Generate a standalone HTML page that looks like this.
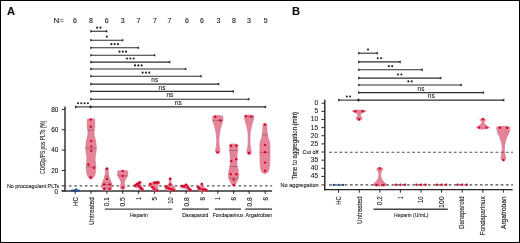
<!DOCTYPE html>
<html><head><meta charset="utf-8"><style>
html,body{margin:0;padding:0;background:#fff;}
body{width:520px;height:243px;overflow:hidden;}
svg{display:block;font-family:"Liberation Sans", sans-serif;will-change:transform;}
text{stroke:#1e1e1e;stroke-width:0.12px;}
</style></head><body>
<svg width="520" height="243" viewBox="0 0 520 243">
<rect x="0" y="0" width="520" height="243" fill="#fff"/>
<text x="7" y="15.2" font-size="11.2" text-anchor="start" font-weight="bold" fill="#111">A</text>
<text x="53.6" y="22.8" font-size="7" text-anchor="start" font-weight="normal" fill="#1e1e1e" textLength="10.4" lengthAdjust="spacingAndGlyphs">N=</text>
<text x="75" y="22.8" font-size="7" text-anchor="middle" font-weight="normal" fill="#1e1e1e">6</text>
<text x="91" y="22.8" font-size="7" text-anchor="middle" font-weight="normal" fill="#1e1e1e">8</text>
<text x="106.8" y="22.8" font-size="7" text-anchor="middle" font-weight="normal" fill="#1e1e1e">6</text>
<text x="122.8" y="22.8" font-size="7" text-anchor="middle" font-weight="normal" fill="#1e1e1e">3</text>
<text x="138.4" y="22.8" font-size="7" text-anchor="middle" font-weight="normal" fill="#1e1e1e">7</text>
<text x="155" y="22.8" font-size="7" text-anchor="middle" font-weight="normal" fill="#1e1e1e">7</text>
<text x="169.4" y="22.8" font-size="7" text-anchor="middle" font-weight="normal" fill="#1e1e1e">7</text>
<text x="187" y="22.8" font-size="7" text-anchor="middle" font-weight="normal" fill="#1e1e1e">6</text>
<text x="202" y="22.8" font-size="7" text-anchor="middle" font-weight="normal" fill="#1e1e1e">6</text>
<text x="218.5" y="22.8" font-size="7" text-anchor="middle" font-weight="normal" fill="#1e1e1e">3</text>
<text x="234" y="22.8" font-size="7" text-anchor="middle" font-weight="normal" fill="#1e1e1e">8</text>
<text x="249" y="22.8" font-size="7" text-anchor="middle" font-weight="normal" fill="#1e1e1e">3</text>
<text x="265.6" y="22.8" font-size="7" text-anchor="middle" font-weight="normal" fill="#1e1e1e">5</text>
<line x1="90.6" y1="31.25" x2="107" y2="31.25" stroke="#2e2e2e" stroke-width="1.1"/>
<path d="M90.3,29.65 L92.5,31.25 L90.3,32.85Z" fill="#2e2e2e"/>
<path d="M107.3,29.65 L105.1,31.25 L107.3,32.85Z" fill="#2e2e2e"/>
<circle cx="97.15" cy="27.65" r="1.05" fill="#222"/>
<circle cx="100.45" cy="27.65" r="1.05" fill="#222"/>
<line x1="90.6" y1="40.25" x2="123" y2="40.25" stroke="#2e2e2e" stroke-width="1.1"/>
<path d="M90.3,38.65 L92.5,40.25 L90.3,41.85Z" fill="#2e2e2e"/>
<path d="M123.3,38.65 L121.1,40.25 L123.3,41.85Z" fill="#2e2e2e"/>
<circle cx="106.8" cy="36.65" r="1.05" fill="#222"/>
<line x1="90.6" y1="47.75" x2="138.75" y2="47.75" stroke="#2e2e2e" stroke-width="1.1"/>
<path d="M90.3,46.15 L92.5,47.75 L90.3,49.35Z" fill="#2e2e2e"/>
<path d="M139.05,46.15 L136.85,47.75 L139.05,49.35Z" fill="#2e2e2e"/>
<circle cx="111.38" cy="44.15" r="1.05" fill="#222"/>
<circle cx="114.67" cy="44.15" r="1.05" fill="#222"/>
<circle cx="117.97" cy="44.15" r="1.05" fill="#222"/>
<line x1="90.6" y1="55.25" x2="155" y2="55.25" stroke="#2e2e2e" stroke-width="1.1"/>
<path d="M90.3,53.65 L92.5,55.25 L90.3,56.85Z" fill="#2e2e2e"/>
<path d="M155.3,53.65 L153.1,55.25 L155.3,56.85Z" fill="#2e2e2e"/>
<circle cx="119.5" cy="51.65" r="1.05" fill="#222"/>
<circle cx="122.8" cy="51.65" r="1.05" fill="#222"/>
<circle cx="126.1" cy="51.65" r="1.05" fill="#222"/>
<line x1="90.6" y1="62.1" x2="170" y2="62.1" stroke="#2e2e2e" stroke-width="1.1"/>
<path d="M90.3,60.5 L92.5,62.1 L90.3,63.7Z" fill="#2e2e2e"/>
<path d="M170.3,60.5 L168.1,62.1 L170.3,63.7Z" fill="#2e2e2e"/>
<circle cx="127" cy="58.5" r="1.05" fill="#222"/>
<circle cx="130.3" cy="58.5" r="1.05" fill="#222"/>
<circle cx="133.6" cy="58.5" r="1.05" fill="#222"/>
<line x1="90.6" y1="69" x2="186" y2="69" stroke="#2e2e2e" stroke-width="1.1"/>
<path d="M90.3,67.4 L92.5,69 L90.3,70.6Z" fill="#2e2e2e"/>
<path d="M186.3,67.4 L184.1,69 L186.3,70.6Z" fill="#2e2e2e"/>
<circle cx="135" cy="65.4" r="1.05" fill="#222"/>
<circle cx="138.3" cy="65.4" r="1.05" fill="#222"/>
<circle cx="141.6" cy="65.4" r="1.05" fill="#222"/>
<line x1="90.6" y1="76.25" x2="201.25" y2="76.25" stroke="#2e2e2e" stroke-width="1.1"/>
<path d="M90.3,74.65 L92.5,76.25 L90.3,77.85Z" fill="#2e2e2e"/>
<path d="M201.55,74.65 L199.35,76.25 L201.55,77.85Z" fill="#2e2e2e"/>
<circle cx="142.62" cy="72.65" r="1.05" fill="#222"/>
<circle cx="145.93" cy="72.65" r="1.05" fill="#222"/>
<circle cx="149.22" cy="72.65" r="1.05" fill="#222"/>
<line x1="90.6" y1="84.1" x2="219" y2="84.1" stroke="#2e2e2e" stroke-width="1.1"/>
<path d="M90.3,82.5 L92.5,84.1 L90.3,85.7Z" fill="#2e2e2e"/>
<path d="M219.3,82.5 L217.1,84.1 L219.3,85.7Z" fill="#2e2e2e"/>
<text x="154.8" y="82.2" font-size="7.8" text-anchor="middle" font-weight="normal" fill="#1e1e1e" textLength="6.9" lengthAdjust="spacingAndGlyphs">ns</text>
<line x1="90.6" y1="91.4" x2="233.5" y2="91.4" stroke="#2e2e2e" stroke-width="1.1"/>
<path d="M90.3,89.8 L92.5,91.4 L90.3,93Z" fill="#2e2e2e"/>
<path d="M233.8,89.8 L231.6,91.4 L233.8,93Z" fill="#2e2e2e"/>
<text x="162.05" y="89.5" font-size="7.8" text-anchor="middle" font-weight="normal" fill="#1e1e1e" textLength="6.9" lengthAdjust="spacingAndGlyphs">ns</text>
<line x1="90.6" y1="99.2" x2="249.1" y2="99.2" stroke="#2e2e2e" stroke-width="1.1"/>
<path d="M90.3,97.6 L92.5,99.2 L90.3,100.8Z" fill="#2e2e2e"/>
<path d="M249.4,97.6 L247.2,99.2 L249.4,100.8Z" fill="#2e2e2e"/>
<text x="169.85" y="97.3" font-size="7.8" text-anchor="middle" font-weight="normal" fill="#1e1e1e" textLength="6.9" lengthAdjust="spacingAndGlyphs">ns</text>
<line x1="90.6" y1="106.9" x2="265.9" y2="106.9" stroke="#2e2e2e" stroke-width="1.1"/>
<path d="M90.3,105.3 L92.5,106.9 L90.3,108.5Z" fill="#2e2e2e"/>
<path d="M266.2,105.3 L264,106.9 L266.2,108.5Z" fill="#2e2e2e"/>
<text x="178.25" y="105" font-size="7.8" text-anchor="middle" font-weight="normal" fill="#1e1e1e" textLength="6.9" lengthAdjust="spacingAndGlyphs">ns</text>
<line x1="75.3" y1="106.9" x2="90.6" y2="106.9" stroke="#2e2e2e" stroke-width="1.1"/>
<path d="M75,105.3 L77.2,106.9 L75,108.5Z" fill="#2e2e2e"/>
<path d="M90.9,105.3 L88.7,106.9 L90.9,108.5Z" fill="#2e2e2e"/>
<circle cx="78" cy="103.3" r="1.05" fill="#222"/>
<circle cx="81.3" cy="103.3" r="1.05" fill="#222"/>
<circle cx="84.6" cy="103.3" r="1.05" fill="#222"/>
<circle cx="87.9" cy="103.3" r="1.05" fill="#222"/>
<text x="6.9" y="187.9" font-size="6" text-anchor="start" font-weight="normal" fill="#1e1e1e" textLength="52.2" lengthAdjust="spacingAndGlyphs">No procoagulant PLTs</text>
<line x1="65" y1="106.5" x2="65" y2="191.5" stroke="#262626" stroke-width="1.4"/>
<line x1="61.7" y1="190.95" x2="272.1" y2="190.95" stroke="#333" stroke-width="1.6"/>
<line x1="61.7" y1="190.8" x2="65" y2="190.8" stroke="#262626" stroke-width="1"/>
<text x="58.1" y="194" font-size="6.4" text-anchor="end" font-weight="normal" fill="#1e1e1e">0</text>
<line x1="61.7" y1="170.45" x2="65" y2="170.45" stroke="#262626" stroke-width="1"/>
<text x="58.4" y="172.75" font-size="6.4" text-anchor="end" font-weight="normal" fill="#1e1e1e">20</text>
<line x1="61.7" y1="150.1" x2="65" y2="150.1" stroke="#262626" stroke-width="1"/>
<text x="58.4" y="152.4" font-size="6.4" text-anchor="end" font-weight="normal" fill="#1e1e1e">40</text>
<line x1="61.7" y1="129.75" x2="65" y2="129.75" stroke="#262626" stroke-width="1"/>
<text x="58.4" y="132.05" font-size="6.4" text-anchor="end" font-weight="normal" fill="#1e1e1e">60</text>
<line x1="61.7" y1="109.4" x2="65" y2="109.4" stroke="#262626" stroke-width="1"/>
<text x="58.4" y="111.7" font-size="6.4" text-anchor="end" font-weight="normal" fill="#1e1e1e">80</text>
<text transform="translate(44.86,147.3) rotate(-90)" font-size="6.3" text-anchor="middle" fill="#1e1e1e" textLength="53.2" lengthAdjust="spacingAndGlyphs">CD62p/PS pos PLTs (%)</text>
<line x1="75.2" y1="190.8" x2="75.2" y2="193.8" stroke="#111" stroke-width="0.9"/>
<line x1="91" y1="190.8" x2="91" y2="193.8" stroke="#111" stroke-width="0.9"/>
<line x1="106.9" y1="190.8" x2="106.9" y2="193.8" stroke="#111" stroke-width="0.9"/>
<line x1="122.7" y1="190.8" x2="122.7" y2="193.8" stroke="#111" stroke-width="0.9"/>
<line x1="138.6" y1="190.8" x2="138.6" y2="193.8" stroke="#111" stroke-width="0.9"/>
<line x1="154.4" y1="190.8" x2="154.4" y2="193.8" stroke="#111" stroke-width="0.9"/>
<line x1="170.2" y1="190.8" x2="170.2" y2="193.8" stroke="#111" stroke-width="0.9"/>
<line x1="186" y1="190.8" x2="186" y2="193.8" stroke="#111" stroke-width="0.9"/>
<line x1="202" y1="190.8" x2="202" y2="193.8" stroke="#111" stroke-width="0.9"/>
<line x1="217.8" y1="190.8" x2="217.8" y2="193.8" stroke="#111" stroke-width="0.9"/>
<line x1="233.6" y1="190.8" x2="233.6" y2="193.8" stroke="#111" stroke-width="0.9"/>
<line x1="249.1" y1="190.8" x2="249.1" y2="193.8" stroke="#111" stroke-width="0.9"/>
<line x1="265.2" y1="190.8" x2="265.2" y2="193.8" stroke="#111" stroke-width="0.9"/>
<text transform="translate(77.76,197.2) rotate(-90)" font-size="6.3" text-anchor="end" fill="#1e1e1e" textLength="8.7" lengthAdjust="spacingAndGlyphs">HC</text>
<text transform="translate(93.56,197.2) rotate(-90)" font-size="6.3" text-anchor="end" fill="#1e1e1e" textLength="27.9" lengthAdjust="spacingAndGlyphs">Untreated</text>
<text transform="translate(109.46,197.2) rotate(-90)" font-size="6.3" text-anchor="end" fill="#1e1e1e" textLength="9" lengthAdjust="spacingAndGlyphs">0.1</text>
<text transform="translate(125.26,197.2) rotate(-90)" font-size="6.3" text-anchor="end" fill="#1e1e1e" textLength="9.2" lengthAdjust="spacingAndGlyphs">0.5</text>
<text transform="translate(141.16,197.2) rotate(-90)" font-size="6.3" text-anchor="end" fill="#1e1e1e" textLength="2.6" lengthAdjust="spacingAndGlyphs">1</text>
<text transform="translate(156.96,197.2) rotate(-90)" font-size="6.3" text-anchor="end" fill="#1e1e1e" textLength="3.4" lengthAdjust="spacingAndGlyphs">5</text>
<text transform="translate(172.76,197.2) rotate(-90)" font-size="6.3" text-anchor="end" fill="#1e1e1e" textLength="6.6" lengthAdjust="spacingAndGlyphs">10</text>
<text transform="translate(188.56,197.2) rotate(-90)" font-size="6.3" text-anchor="end" fill="#1e1e1e" textLength="9.2" lengthAdjust="spacingAndGlyphs">0.8</text>
<text transform="translate(204.56,197.2) rotate(-90)" font-size="6.3" text-anchor="end" fill="#1e1e1e" textLength="3.4" lengthAdjust="spacingAndGlyphs">8</text>
<text transform="translate(220.36,197.2) rotate(-90)" font-size="6.3" text-anchor="end" fill="#1e1e1e" textLength="2.6" lengthAdjust="spacingAndGlyphs">1</text>
<text transform="translate(236.16,197.2) rotate(-90)" font-size="6.3" text-anchor="end" fill="#1e1e1e" textLength="3.4" lengthAdjust="spacingAndGlyphs">8</text>
<text transform="translate(251.66,197.2) rotate(-90)" font-size="6.3" text-anchor="end" fill="#1e1e1e" textLength="9.2" lengthAdjust="spacingAndGlyphs">0.8</text>
<text transform="translate(267.76,197.2) rotate(-90)" font-size="6.3" text-anchor="end" fill="#1e1e1e" textLength="3.4" lengthAdjust="spacingAndGlyphs">8</text>
<line x1="104.8" y1="209.1" x2="172.3" y2="209.1" stroke="#444" stroke-width="1.4"/>
<text x="138.9" y="216.9" font-size="5.8" text-anchor="middle" font-weight="normal" fill="#1e1e1e" textLength="18" lengthAdjust="spacingAndGlyphs">Heparin</text>
<line x1="182" y1="209.1" x2="208.8" y2="209.1" stroke="#444" stroke-width="1.4"/>
<text x="195.25" y="216.9" font-size="5.8" text-anchor="middle" font-weight="normal" fill="#1e1e1e" textLength="26.1" lengthAdjust="spacingAndGlyphs">Danaparoid</text>
<line x1="214.6" y1="209.1" x2="241" y2="209.1" stroke="#444" stroke-width="1.4"/>
<text x="228.1" y="216.9" font-size="5.8" text-anchor="middle" font-weight="normal" fill="#1e1e1e" textLength="30.7" lengthAdjust="spacingAndGlyphs">Fondaparinux</text>
<line x1="245.4" y1="209.1" x2="272" y2="209.1" stroke="#444" stroke-width="1.4"/>
<text x="258.75" y="216.9" font-size="5.8" text-anchor="middle" font-weight="normal" fill="#1e1e1e" textLength="26.3" lengthAdjust="spacingAndGlyphs">Argatroban</text>
<ellipse cx="75.3" cy="190.5" rx="4.8" ry="1.1" fill="#1f4f8f"/>
<circle cx="72" cy="190.6" r="0.9" fill="#1f4f8f"/>
<circle cx="73.8" cy="190.3" r="0.9" fill="#1f4f8f"/>
<circle cx="75.5" cy="189.8" r="0.9" fill="#1f4f8f"/>
<circle cx="76.3" cy="189.1" r="0.9" fill="#1f4f8f"/>
<circle cx="77.5" cy="190.3" r="0.9" fill="#1f4f8f"/>
<circle cx="79" cy="190.6" r="0.9" fill="#1f4f8f"/>
<line x1="61.7" y1="185.85" x2="65" y2="185.85" stroke="#262626" stroke-width="1"/>
<line x1="63.7" y1="185.85" x2="272.1" y2="185.85" stroke="#4e4e4e" stroke-width="1.1" stroke-dasharray="2.45 2.85"/>
<path d="M91,118.6 C90.5,118.67 88.62,118.77 88,119 C87.38,119.23 87.42,118.83 87.3,120 C87.18,121.17 87.23,124.33 87.3,126 C87.37,127.67 87.58,128.67 87.7,130 C87.82,131.33 88.08,132.67 88,134 C87.92,135.33 87.5,136.67 87.2,138 C86.9,139.33 86.45,140.33 86.2,142 C85.95,143.67 85.7,146.17 85.7,148 C85.7,149.83 86,151.33 86.2,153 C86.4,154.67 86.83,156.33 86.9,158 C86.97,159.67 86.72,161.33 86.6,163 C86.48,164.67 86.18,166.33 86.2,168 C86.22,169.67 86.37,171.5 86.7,173 C87.03,174.5 87.48,175.93 88.2,177 C88.92,178.07 90.07,179.4 91,179.4 C91.93,179.4 93.08,178.07 93.8,177 C94.52,175.93 94.97,174.5 95.3,173 C95.63,171.5 95.78,169.67 95.8,168 C95.82,166.33 95.52,164.67 95.4,163 C95.28,161.33 95.03,159.67 95.1,158 C95.17,156.33 95.6,154.67 95.8,153 C96,151.33 96.3,149.83 96.3,148 C96.3,146.17 96.05,143.67 95.8,142 C95.55,140.33 95.1,139.33 94.8,138 C94.5,136.67 94.08,135.33 94,134 C93.92,132.67 94.18,131.33 94.3,130 C94.42,128.67 94.63,127.67 94.7,126 C94.77,124.33 94.82,121.17 94.7,120 C94.58,118.83 94.62,119.23 94,119 C93.38,118.77 91.5,118.67 91,118.6Z" fill="#e58499" stroke="#d56c86" stroke-width="0.6"/>
<line x1="87.6" y1="130" x2="94.4" y2="130" stroke="#5a4a50" stroke-width="0.7" stroke-dasharray="1 0.7"/>
<line x1="85.7" y1="148.3" x2="96.3" y2="148.3" stroke="#5a4a50" stroke-width="0.7" stroke-dasharray="1 0.7"/>
<line x1="86.2" y1="166.8" x2="95.8" y2="166.8" stroke="#5a4a50" stroke-width="0.7" stroke-dasharray="1 0.7"/>
<path d="M106.9,167.6 C106.63,167.75 105.53,167.93 105.3,168.5 C105.07,169.07 105.52,169.92 105.5,171 C105.48,172.08 105.47,173.67 105.2,175 C104.93,176.33 104.38,177.67 103.9,179 C103.42,180.33 102.63,181.67 102.3,183 C101.97,184.33 101.8,185.92 101.9,187 C102,188.08 102.07,188.9 102.9,189.5 C103.73,190.1 105.57,190.6 106.9,190.6 C108.23,190.6 110.07,190.1 110.9,189.5 C111.73,188.9 111.8,188.08 111.9,187 C112,185.92 111.83,184.33 111.5,183 C111.17,181.67 110.38,180.33 109.9,179 C109.42,177.67 108.87,176.33 108.6,175 C108.33,173.67 108.32,172.08 108.3,171 C108.28,169.92 108.73,169.07 108.5,168.5 C108.27,167.93 107.17,167.75 106.9,167.6Z" fill="#e58499" stroke="#d56c86" stroke-width="0.6"/>
<line x1="104.9" y1="176.1" x2="108.9" y2="176.1" stroke="#5a4a50" stroke-width="0.7" stroke-dasharray="1 0.7"/>
<line x1="102.1" y1="184.5" x2="111.7" y2="184.5" stroke="#5a4a50" stroke-width="0.7" stroke-dasharray="1 0.7"/>
<path d="M122.7,170.4 C121.97,170.48 119.15,170.63 118.3,170.9 C117.45,171.17 117.7,171.32 117.6,172 C117.5,172.68 117.55,174.17 117.7,175 C117.85,175.83 118.08,176.17 118.5,177 C118.92,177.83 119.75,179 120.2,180 C120.65,181 121.15,182.08 121.2,183 C121.25,183.92 120.63,184.75 120.5,185.5 C120.37,186.25 120.28,186.92 120.4,187.5 C120.52,188.08 120.82,188.62 121.2,189 C121.58,189.38 122.2,189.8 122.7,189.8 C123.2,189.8 123.82,189.38 124.2,189 C124.58,188.62 124.88,188.08 125,187.5 C125.12,186.92 125.03,186.25 124.9,185.5 C124.77,184.75 124.15,183.92 124.2,183 C124.25,182.08 124.75,181 125.2,180 C125.65,179 126.48,177.83 126.9,177 C127.32,176.17 127.55,175.83 127.7,175 C127.85,174.17 127.9,172.68 127.8,172 C127.7,171.32 127.95,171.17 127.1,170.9 C126.25,170.63 123.43,170.48 122.7,170.4Z" fill="#e58499" stroke="#d56c86" stroke-width="0.6"/>
<line x1="117.7" y1="175.9" x2="127.7" y2="175.9" stroke="#5a4a50" stroke-width="0.7" stroke-dasharray="1 0.7"/>
<path d="M139.5,181.3 C140.27,181.13 141.38,181.55 141.6,182 C141.82,182.45 140.83,183.33 140.8,184 C140.77,184.67 141,185.28 141.4,186 C141.8,186.72 142.9,187.6 143.2,188.3 C143.5,189 143.57,189.82 143.2,190.2 C142.83,190.58 141.78,190.92 141,190.6 C140.22,190.28 139.33,188.83 138.5,188.3 C137.67,187.77 136.78,187.68 136,187.4 C135.22,187.12 134.08,187.03 133.8,186.6 C133.52,186.17 133.77,185.4 134.3,184.8 C134.83,184.2 136.13,183.58 137,183 C137.87,182.42 138.73,181.47 139.5,181.3Z" fill="#e58499" stroke="#d56c86" stroke-width="0.5" opacity="1"/>
<path d="M149.8,183.3 C150.55,182.67 152.47,182.12 153.5,181.8 C154.53,181.48 155.02,181.45 156,181.4 C156.98,181.35 158.83,181.1 159.4,181.5 C159.97,181.9 159.67,183.13 159.4,183.8 C159.13,184.47 158.03,184.72 157.8,185.5 C157.57,186.28 157.92,187.48 158,188.5 C158.08,189.52 158.63,191.08 158.3,191.6 C157.97,192.12 156.88,191.87 156,191.6 C155.12,191.33 153.78,190.68 153,190 C152.22,189.32 151.97,188.23 151.3,187.5 C150.63,186.77 149.25,186.3 149,185.6 C148.75,184.9 149.05,183.93 149.8,183.3Z" fill="#e58499" stroke="#d56c86" stroke-width="0.5" opacity="1"/>
<path d="M170.2,177.7 C170.03,177.83 169.32,177.95 169.2,178.5 C169.08,179.05 169.55,180.17 169.5,181 C169.45,181.83 169.28,182.75 168.9,183.5 C168.52,184.25 167.75,184.83 167.2,185.5 C166.65,186.17 165.93,186.83 165.6,187.5 C165.27,188.17 164.43,188.92 165.2,189.5 C165.97,190.08 168.53,191 170.2,191 C171.87,191 174.43,190.08 175.2,189.5 C175.97,188.92 175.13,188.17 174.8,187.5 C174.47,186.83 173.75,186.17 173.2,185.5 C172.65,184.83 171.88,184.25 171.5,183.5 C171.12,182.75 170.95,181.83 170.9,181 C170.85,180.17 171.32,179.05 171.2,178.5 C171.08,177.95 170.37,177.83 170.2,177.7Z" fill="#e58499" stroke="#d56c86" stroke-width="0.6"/>
<path d="M180.5,185.5 C180.93,185.17 182.17,185.27 183,185 C183.83,184.73 184.73,184.05 185.5,183.9 C186.27,183.75 187.15,183.83 187.6,184.1 C188.05,184.37 187.87,184.95 188.2,185.5 C188.53,186.05 189.03,186.75 189.6,187.4 C190.17,188.05 191.27,188.8 191.6,189.4 C191.93,190 192.03,190.73 191.6,191 C191.17,191.27 189.85,191.3 189,191 C188.15,190.7 187.42,189.67 186.5,189.2 C185.58,188.73 184.52,188.57 183.5,188.2 C182.48,187.83 180.9,187.45 180.4,187 C179.9,186.55 180.07,185.83 180.5,185.5Z" fill="#e58499" stroke="#d56c86" stroke-width="0.5" opacity="1"/>
<path d="M201.8,182.8 C202.08,182.8 202.52,183.83 202.7,184.5 C202.88,185.17 202.52,186.22 202.9,186.8 C203.28,187.38 204.22,187.55 205,188 C205.78,188.45 207.17,189 207.6,189.5 C208.03,190 209.03,190.75 207.6,191 C206.17,191.25 200.73,191.47 199,191 C197.27,190.53 197.45,189 197.2,188.2 C196.95,187.4 197.07,186.48 197.5,186.2 C197.93,185.92 199.22,186.78 199.8,186.5 C200.38,186.22 200.67,185.12 201,184.5 C201.33,183.88 201.52,182.8 201.8,182.8Z" fill="#e58499" stroke="#d56c86" stroke-width="0.5" opacity="1"/>
<path d="M217.8,115.6 C217.05,115.67 214.13,115.77 213.3,116 C212.47,116.23 212.88,116.17 212.8,117 C212.72,117.83 212.7,120 212.8,121 C212.9,122 213.07,122 213.4,123 C213.73,124 214.38,125.5 214.8,127 C215.22,128.5 215.6,130.17 215.9,132 C216.2,133.83 216.47,136.17 216.6,138 C216.73,139.83 216.77,141.5 216.7,143 C216.63,144.5 216.38,145.83 216.2,147 C216.02,148.17 215.63,149.08 215.6,150 C215.57,150.92 215.63,151.92 216,152.5 C216.37,153.08 217.2,153.5 217.8,153.5 C218.4,153.5 219.23,153.08 219.6,152.5 C219.97,151.92 220.03,150.92 220,150 C219.97,149.08 219.58,148.17 219.4,147 C219.22,145.83 218.97,144.5 218.9,143 C218.83,141.5 218.87,139.83 219,138 C219.13,136.17 219.4,133.83 219.7,132 C220,130.17 220.38,128.5 220.8,127 C221.22,125.5 221.87,124 222.2,123 C222.53,122 222.7,122 222.8,121 C222.9,120 222.88,117.83 222.8,117 C222.72,116.17 223.13,116.23 222.3,116 C221.47,115.77 218.55,115.67 217.8,115.6Z" fill="#e58499" stroke="#d56c86" stroke-width="0.6"/>
<line x1="212.8" y1="120.5" x2="222.8" y2="120.5" stroke="#5a4a50" stroke-width="0.7" stroke-dasharray="1 0.7"/>
<path d="M233.6,143.9 C233,143.97 230.7,144.03 230,144.3 C229.3,144.57 229.47,144.55 229.4,145.5 C229.33,146.45 229.48,148.42 229.6,150 C229.72,151.58 229.97,153.33 230.1,155 C230.23,156.67 230.37,158.5 230.4,160 C230.43,161.5 230.43,162.67 230.3,164 C230.17,165.33 229.85,166.75 229.6,168 C229.35,169.25 228.98,170.33 228.8,171.5 C228.62,172.67 228.47,173.83 228.5,175 C228.53,176.17 228.72,177.42 229,178.5 C229.28,179.58 229.73,180.5 230.2,181.5 C230.67,182.5 231.23,183.72 231.8,184.5 C232.37,185.28 233,186.2 233.6,186.2 C234.2,186.2 234.83,185.28 235.4,184.5 C235.97,183.72 236.53,182.5 237,181.5 C237.47,180.5 237.92,179.58 238.2,178.5 C238.48,177.42 238.67,176.17 238.7,175 C238.73,173.83 238.58,172.67 238.4,171.5 C238.22,170.33 237.85,169.25 237.6,168 C237.35,166.75 237.03,165.33 236.9,164 C236.77,162.67 236.77,161.5 236.8,160 C236.83,158.5 236.97,156.67 237.1,155 C237.23,153.33 237.48,151.58 237.6,150 C237.72,148.42 237.87,146.45 237.8,145.5 C237.73,144.55 237.9,144.57 237.2,144.3 C236.5,144.03 234.2,143.97 233.6,143.9Z" fill="#e58499" stroke="#d56c86" stroke-width="0.6"/>
<line x1="229.6" y1="150.5" x2="237.6" y2="150.5" stroke="#5a4a50" stroke-width="0.7" stroke-dasharray="1 0.7"/>
<line x1="230" y1="166.6" x2="237.2" y2="166.6" stroke="#5a4a50" stroke-width="0.7" stroke-dasharray="1 0.7"/>
<line x1="228.9" y1="178" x2="238.3" y2="178" stroke="#5a4a50" stroke-width="0.7" stroke-dasharray="1 0.7"/>
<path d="M249.1,115 C248.4,115.1 245.67,115.27 244.9,115.6 C244.13,115.93 244.5,116.27 244.5,117 C244.5,117.73 244.58,118.67 244.9,120 C245.22,121.33 245.97,123.33 246.4,125 C246.83,126.67 247.22,128.33 247.5,130 C247.78,131.67 247.99,132.83 248.1,135 C248.21,137.17 248.23,140.83 248.15,143 C248.07,145.17 247.79,146.67 247.6,148 C247.41,149.33 247.08,150.08 247,151 C246.92,151.92 246.75,152.83 247.1,153.5 C247.45,154.17 248.43,155 249.1,155 C249.77,155 250.75,154.17 251.1,153.5 C251.45,152.83 251.28,151.92 251.2,151 C251.12,150.08 250.79,149.33 250.6,148 C250.41,146.67 250.13,145.17 250.05,143 C249.97,140.83 249.99,137.17 250.1,135 C250.21,132.83 250.42,131.67 250.7,130 C250.98,128.33 251.37,126.67 251.8,125 C252.23,123.33 252.98,121.33 253.3,120 C253.62,118.67 253.7,117.73 253.7,117 C253.7,116.27 254.07,115.93 253.3,115.6 C252.53,115.27 249.8,115.1 249.1,115Z" fill="#e58499" stroke="#d56c86" stroke-width="0.6"/>
<line x1="244.6" y1="117" x2="253.6" y2="117" stroke="#5a4a50" stroke-width="0.7" stroke-dasharray="1 0.7"/>
<path d="M264.9,123.3 C264.65,123.38 263.72,123.52 263.4,123.8 C263.08,124.08 263.1,123.97 263,125 C262.9,126.03 262.88,128.5 262.8,130 C262.72,131.5 262.65,132.83 262.5,134 C262.35,135.17 262.17,136 261.9,137 C261.63,138 261.2,139 260.9,140 C260.6,141 260.27,141.67 260.1,143 C259.93,144.33 259.92,145.5 259.9,148 C259.88,150.5 259.95,155.17 260,158 C260.05,160.83 260.07,163.17 260.2,165 C260.33,166.83 260.55,167.92 260.8,169 C261.05,170.08 261.32,170.83 261.7,171.5 C262.08,172.17 262.57,172.65 263.1,173 C263.63,173.35 264.3,173.6 264.9,173.6 C265.5,173.6 266.17,173.35 266.7,173 C267.23,172.65 267.72,172.17 268.1,171.5 C268.48,170.83 268.75,170.08 269,169 C269.25,167.92 269.47,166.83 269.6,165 C269.73,163.17 269.75,160.83 269.8,158 C269.85,155.17 269.92,150.5 269.9,148 C269.88,145.5 269.87,144.33 269.7,143 C269.53,141.67 269.2,141 268.9,140 C268.6,139 268.17,138 267.9,137 C267.63,136 267.45,135.17 267.3,134 C267.15,132.83 267.08,131.5 267,130 C266.92,128.5 266.9,126.03 266.8,125 C266.7,123.97 266.72,124.08 266.4,123.8 C266.08,123.52 265.15,123.38 264.9,123.3Z" fill="#e58499" stroke="#d56c86" stroke-width="0.6"/>
<line x1="261.9" y1="135" x2="267.9" y2="135" stroke="#5a4a50" stroke-width="0.7" stroke-dasharray="1 0.7"/>
<line x1="259.9" y1="152.3" x2="269.9" y2="152.3" stroke="#5a4a50" stroke-width="0.7" stroke-dasharray="1 0.7"/>
<circle cx="90.8" cy="119.6" r="1.2" fill="#d10a2c"/>
<circle cx="90.8" cy="126.7" r="1.2" fill="#d10a2c"/>
<circle cx="91.2" cy="140.9" r="1.2" fill="#d10a2c"/>
<circle cx="91.2" cy="146.6" r="1.2" fill="#d10a2c"/>
<circle cx="91.2" cy="150.7" r="1.2" fill="#d10a2c"/>
<circle cx="88.3" cy="164.5" r="1.2" fill="#d10a2c"/>
<circle cx="93.8" cy="167.7" r="1.2" fill="#d10a2c"/>
<circle cx="90.7" cy="177.2" r="1.2" fill="#d10a2c"/>
<circle cx="106.9" cy="168.8" r="1.2" fill="#d10a2c"/>
<circle cx="106.9" cy="179" r="1.2" fill="#d10a2c"/>
<circle cx="104.1" cy="184.5" r="1.2" fill="#d10a2c"/>
<circle cx="109.7" cy="184.5" r="1.2" fill="#d10a2c"/>
<circle cx="104.4" cy="188.7" r="1.2" fill="#d10a2c"/>
<circle cx="109.6" cy="188.7" r="1.2" fill="#d10a2c"/>
<circle cx="122.7" cy="170.9" r="1.2" fill="#d10a2c"/>
<circle cx="122.7" cy="175.9" r="1.2" fill="#d10a2c"/>
<circle cx="122.7" cy="187.4" r="1.2" fill="#d10a2c"/>
<circle cx="139.6" cy="182.6" r="1.35" fill="#d10a2c"/>
<circle cx="138.2" cy="183.5" r="1.35" fill="#d10a2c"/>
<circle cx="136.8" cy="184.3" r="1.35" fill="#d10a2c"/>
<circle cx="135.3" cy="185.7" r="1.35" fill="#d10a2c"/>
<circle cx="139" cy="186" r="1.35" fill="#d10a2c"/>
<circle cx="140.6" cy="187.9" r="1.35" fill="#d10a2c"/>
<circle cx="142.1" cy="189.4" r="1.35" fill="#d10a2c"/>
<circle cx="150.1" cy="184.2" r="1.35" fill="#d10a2c"/>
<circle cx="154.5" cy="182.9" r="1.35" fill="#d10a2c"/>
<circle cx="156.3" cy="182.6" r="1.35" fill="#d10a2c"/>
<circle cx="158.2" cy="182.6" r="1.35" fill="#d10a2c"/>
<circle cx="152.3" cy="187" r="1.35" fill="#d10a2c"/>
<circle cx="154.1" cy="188.8" r="1.35" fill="#d10a2c"/>
<circle cx="156.9" cy="190.7" r="1.35" fill="#d10a2c"/>
<circle cx="170.1" cy="178.8" r="1.35" fill="#d10a2c"/>
<circle cx="170.1" cy="184.5" r="1.35" fill="#d10a2c"/>
<circle cx="165.8" cy="186.6" r="1.35" fill="#d10a2c"/>
<circle cx="167.4" cy="187.6" r="1.35" fill="#d10a2c"/>
<circle cx="169.3" cy="188.5" r="1.35" fill="#d10a2c"/>
<circle cx="171.4" cy="189.3" r="1.35" fill="#d10a2c"/>
<circle cx="173.6" cy="190.2" r="1.35" fill="#d10a2c"/>
<circle cx="181.8" cy="186.1" r="1.35" fill="#d10a2c"/>
<circle cx="183.9" cy="186.5" r="1.35" fill="#d10a2c"/>
<circle cx="186" cy="185.1" r="1.35" fill="#d10a2c"/>
<circle cx="187.8" cy="187.2" r="1.35" fill="#d10a2c"/>
<circle cx="189.5" cy="189.3" r="1.35" fill="#d10a2c"/>
<circle cx="190.4" cy="190.2" r="1.35" fill="#d10a2c"/>
<circle cx="201.8" cy="184" r="1.35" fill="#d10a2c"/>
<circle cx="198.3" cy="187.2" r="1.35" fill="#d10a2c"/>
<circle cx="199.7" cy="188.9" r="1.35" fill="#d10a2c"/>
<circle cx="202.5" cy="189.6" r="1.35" fill="#d10a2c"/>
<circle cx="204.6" cy="189.6" r="1.35" fill="#d10a2c"/>
<circle cx="206.3" cy="190.3" r="1.35" fill="#d10a2c"/>
<circle cx="215.2" cy="116.7" r="1.2" fill="#d10a2c"/>
<circle cx="220.3" cy="120.5" r="1.2" fill="#d10a2c"/>
<circle cx="217.5" cy="152.2" r="1.2" fill="#d10a2c"/>
<circle cx="231" cy="145.8" r="1.2" fill="#d10a2c"/>
<circle cx="236.3" cy="145.8" r="1.2" fill="#d10a2c"/>
<circle cx="231.3" cy="161" r="1.2" fill="#d10a2c"/>
<circle cx="236.4" cy="159.2" r="1.2" fill="#d10a2c"/>
<circle cx="230.8" cy="174.2" r="1.2" fill="#d10a2c"/>
<circle cx="236.3" cy="174.2" r="1.2" fill="#d10a2c"/>
<circle cx="233.7" cy="179.6" r="1.2" fill="#d10a2c"/>
<circle cx="233.7" cy="185" r="1.2" fill="#d10a2c"/>
<circle cx="246" cy="116" r="1.2" fill="#d10a2c"/>
<circle cx="251.4" cy="116.5" r="1.2" fill="#d10a2c"/>
<circle cx="249" cy="153" r="1.2" fill="#d10a2c"/>
<circle cx="265" cy="124.6" r="1.2" fill="#d10a2c"/>
<circle cx="265" cy="144.9" r="1.2" fill="#d10a2c"/>
<circle cx="265" cy="152.3" r="1.2" fill="#d10a2c"/>
<circle cx="265" cy="162.6" r="1.2" fill="#d10a2c"/>
<circle cx="265" cy="170.7" r="1.2" fill="#d10a2c"/>
<text x="292" y="15.2" font-size="11.2" text-anchor="start" font-weight="bold" fill="#111">B</text>
<line x1="358.5" y1="53.2" x2="377.5" y2="53.2" stroke="#2e2e2e" stroke-width="1.1"/>
<path d="M358.2,51.6 L360.4,53.2 L358.2,54.8Z" fill="#2e2e2e"/>
<path d="M377.8,51.6 L375.6,53.2 L377.8,54.8Z" fill="#2e2e2e"/>
<circle cx="368" cy="49.6" r="1.05" fill="#222"/>
<line x1="358.5" y1="61.9" x2="400.4" y2="61.9" stroke="#2e2e2e" stroke-width="1.1"/>
<path d="M358.2,60.3 L360.4,61.9 L358.2,63.5Z" fill="#2e2e2e"/>
<path d="M400.7,60.3 L398.5,61.9 L400.7,63.5Z" fill="#2e2e2e"/>
<circle cx="377.8" cy="58.3" r="1.05" fill="#222"/>
<circle cx="381.1" cy="58.3" r="1.05" fill="#222"/>
<line x1="358.5" y1="69.75" x2="422.5" y2="69.75" stroke="#2e2e2e" stroke-width="1.1"/>
<path d="M358.2,68.15 L360.4,69.75 L358.2,71.35Z" fill="#2e2e2e"/>
<path d="M422.8,68.15 L420.6,69.75 L422.8,71.35Z" fill="#2e2e2e"/>
<circle cx="388.85" cy="66.15" r="1.05" fill="#222"/>
<circle cx="392.15" cy="66.15" r="1.05" fill="#222"/>
<line x1="358.5" y1="78.1" x2="441" y2="78.1" stroke="#2e2e2e" stroke-width="1.1"/>
<path d="M358.2,76.5 L360.4,78.1 L358.2,79.7Z" fill="#2e2e2e"/>
<path d="M441.3,76.5 L439.1,78.1 L441.3,79.7Z" fill="#2e2e2e"/>
<circle cx="398.1" cy="74.5" r="1.05" fill="#222"/>
<circle cx="401.4" cy="74.5" r="1.05" fill="#222"/>
<line x1="358.5" y1="85" x2="461.5" y2="85" stroke="#2e2e2e" stroke-width="1.1"/>
<path d="M358.2,83.4 L360.4,85 L358.2,86.6Z" fill="#2e2e2e"/>
<path d="M461.8,83.4 L459.6,85 L461.8,86.6Z" fill="#2e2e2e"/>
<circle cx="408.35" cy="81.4" r="1.05" fill="#222"/>
<circle cx="411.65" cy="81.4" r="1.05" fill="#222"/>
<line x1="358.5" y1="92.6" x2="483.5" y2="92.6" stroke="#2e2e2e" stroke-width="1.1"/>
<path d="M358.2,91 L360.4,92.6 L358.2,94.2Z" fill="#2e2e2e"/>
<path d="M483.8,91 L481.6,92.6 L483.8,94.2Z" fill="#2e2e2e"/>
<text x="421" y="90.7" font-size="7.8" text-anchor="middle" font-weight="normal" fill="#1e1e1e" textLength="6.9" lengthAdjust="spacingAndGlyphs">ns</text>
<line x1="358.5" y1="100.1" x2="504" y2="100.1" stroke="#2e2e2e" stroke-width="1.1"/>
<path d="M358.2,98.5 L360.4,100.1 L358.2,101.7Z" fill="#2e2e2e"/>
<path d="M504.3,98.5 L502.1,100.1 L504.3,101.7Z" fill="#2e2e2e"/>
<text x="431.25" y="98.2" font-size="7.8" text-anchor="middle" font-weight="normal" fill="#1e1e1e" textLength="6.9" lengthAdjust="spacingAndGlyphs">ns</text>
<line x1="338.5" y1="100.1" x2="358.5" y2="100.1" stroke="#2e2e2e" stroke-width="1.1"/>
<path d="M338.2,98.5 L340.4,100.1 L338.2,101.7Z" fill="#2e2e2e"/>
<path d="M358.8,98.5 L356.6,100.1 L358.8,101.7Z" fill="#2e2e2e"/>
<circle cx="346.85" cy="96.5" r="1.05" fill="#222"/>
<circle cx="350.15" cy="96.5" r="1.05" fill="#222"/>
<line x1="324.8" y1="99.8" x2="324.8" y2="190.4" stroke="#262626" stroke-width="1.4"/>
<line x1="324.1" y1="189.6" x2="512.6" y2="189.6" stroke="#262626" stroke-width="1.45"/>
<line x1="321.5" y1="103.2" x2="324.8" y2="103.2" stroke="#262626" stroke-width="1"/>
<text x="318.2" y="105.2" font-size="6.6" text-anchor="end" font-weight="normal" fill="#1e1e1e">0</text>
<line x1="321.5" y1="111.34" x2="324.8" y2="111.34" stroke="#262626" stroke-width="1"/>
<text x="318.2" y="113.34" font-size="6.6" text-anchor="end" font-weight="normal" fill="#1e1e1e">5</text>
<line x1="321.5" y1="119.47" x2="324.8" y2="119.47" stroke="#262626" stroke-width="1"/>
<text x="318.2" y="121.47" font-size="6.6" text-anchor="end" font-weight="normal" fill="#1e1e1e">10</text>
<line x1="321.5" y1="127.61" x2="324.8" y2="127.61" stroke="#262626" stroke-width="1"/>
<text x="318.2" y="129.61" font-size="6.6" text-anchor="end" font-weight="normal" fill="#1e1e1e">15</text>
<line x1="321.5" y1="135.74" x2="324.8" y2="135.74" stroke="#262626" stroke-width="1"/>
<text x="318.2" y="137.74" font-size="6.6" text-anchor="end" font-weight="normal" fill="#1e1e1e">20</text>
<line x1="321.5" y1="143.88" x2="324.8" y2="143.88" stroke="#262626" stroke-width="1"/>
<text x="318.2" y="145.88" font-size="6.6" text-anchor="end" font-weight="normal" fill="#1e1e1e">25</text>
<line x1="321.5" y1="152.01" x2="324.8" y2="152.01" stroke="#262626" stroke-width="1"/>
<text x="318.4" y="154.11" font-size="6.2" text-anchor="end" font-weight="normal" fill="#1e1e1e" textLength="15.9" lengthAdjust="spacingAndGlyphs">Cut off</text>
<line x1="321.5" y1="160.15" x2="324.8" y2="160.15" stroke="#262626" stroke-width="1"/>
<text x="318.2" y="162.15" font-size="6.6" text-anchor="end" font-weight="normal" fill="#1e1e1e">35</text>
<line x1="321.5" y1="168.28" x2="324.8" y2="168.28" stroke="#262626" stroke-width="1"/>
<text x="318.2" y="170.28" font-size="6.6" text-anchor="end" font-weight="normal" fill="#1e1e1e">40</text>
<line x1="321.5" y1="176.42" x2="324.8" y2="176.42" stroke="#262626" stroke-width="1"/>
<text x="318.2" y="178.42" font-size="6.6" text-anchor="end" font-weight="normal" fill="#1e1e1e">45</text>
<line x1="321.5" y1="184.9" x2="324.8" y2="184.9" stroke="#262626" stroke-width="1"/>
<text x="318.6" y="187.1" font-size="6.2" text-anchor="end" font-weight="normal" fill="#1e1e1e" textLength="38" lengthAdjust="spacingAndGlyphs">No aggregation</text>
<text transform="translate(297.16,145.75) rotate(-90)" font-size="6.3" text-anchor="middle" fill="#1e1e1e" textLength="67.7" lengthAdjust="spacingAndGlyphs">Time to aggregation (min)</text>
<line x1="338.5" y1="189.6" x2="338.5" y2="192.7" stroke="#111" stroke-width="0.9"/>
<line x1="359.3" y1="189.6" x2="359.3" y2="192.7" stroke="#111" stroke-width="0.9"/>
<line x1="379.8" y1="189.6" x2="379.8" y2="192.7" stroke="#111" stroke-width="0.9"/>
<line x1="400.4" y1="189.6" x2="400.4" y2="192.7" stroke="#111" stroke-width="0.9"/>
<line x1="421" y1="189.6" x2="421" y2="192.7" stroke="#111" stroke-width="0.9"/>
<line x1="441.6" y1="189.6" x2="441.6" y2="192.7" stroke="#111" stroke-width="0.9"/>
<line x1="462.2" y1="189.6" x2="462.2" y2="192.7" stroke="#111" stroke-width="0.9"/>
<line x1="482.8" y1="189.6" x2="482.8" y2="192.7" stroke="#111" stroke-width="0.9"/>
<line x1="503.3" y1="189.6" x2="503.3" y2="192.7" stroke="#111" stroke-width="0.9"/>
<text transform="translate(340.76,196.4) rotate(-90)" font-size="6.3" text-anchor="end" fill="#1e1e1e" textLength="8.4" lengthAdjust="spacingAndGlyphs">HC</text>
<text transform="translate(361.56,196.4) rotate(-90)" font-size="6.3" text-anchor="end" fill="#1e1e1e" textLength="27.6" lengthAdjust="spacingAndGlyphs">Untreated</text>
<text transform="translate(382.06,196.4) rotate(-90)" font-size="6.3" text-anchor="end" fill="#1e1e1e" textLength="8.6" lengthAdjust="spacingAndGlyphs">0.2</text>
<text transform="translate(402.66,196.4) rotate(-90)" font-size="6.3" text-anchor="end" fill="#1e1e1e" textLength="2.8" lengthAdjust="spacingAndGlyphs">1</text>
<text transform="translate(423.26,196.4) rotate(-90)" font-size="6.3" text-anchor="end" fill="#1e1e1e" textLength="6.6" lengthAdjust="spacingAndGlyphs">10</text>
<text transform="translate(443.86,196.4) rotate(-90)" font-size="6.3" text-anchor="end" fill="#1e1e1e" textLength="11.6" lengthAdjust="spacingAndGlyphs">100</text>
<text transform="translate(464.46,196.4) rotate(-90)" font-size="6.3" text-anchor="end" fill="#1e1e1e" textLength="32.6" lengthAdjust="spacingAndGlyphs">Danaparoid</text>
<text transform="translate(485.06,196.4) rotate(-90)" font-size="6.3" text-anchor="end" fill="#1e1e1e" textLength="39" lengthAdjust="spacingAndGlyphs">Fondaparinux</text>
<text transform="translate(505.56,196.4) rotate(-90)" font-size="6.3" text-anchor="end" fill="#1e1e1e" textLength="32.6" lengthAdjust="spacingAndGlyphs">Argatroban</text>
<line x1="373.5" y1="209.2" x2="447.8" y2="209.2" stroke="#444" stroke-width="1.4"/>
<text x="411.2" y="216.9" font-size="6.0" text-anchor="middle" font-weight="normal" fill="#1e1e1e" textLength="34.4" lengthAdjust="spacingAndGlyphs">Heparin (U/mL)</text>
<path d="M359.1,110 C358.27,110.05 355.23,110.13 354.1,110.3 C352.97,110.47 352.4,110.73 352.3,111 C352.2,111.27 352.9,111.62 353.5,111.9 C354.1,112.18 355.28,112.38 355.9,112.7 C356.52,113.02 356.88,113.37 357.2,113.8 C357.52,114.23 357.8,114.83 357.8,115.3 C357.8,115.77 357.47,116.18 357.2,116.6 C356.93,117.02 356.33,117.37 356.2,117.8 C356.07,118.23 356.18,118.82 356.4,119.2 C356.62,119.58 357.05,119.87 357.5,120.1 C357.95,120.33 358.57,120.6 359.1,120.6 C359.63,120.6 360.25,120.33 360.7,120.1 C361.15,119.87 361.58,119.58 361.8,119.2 C362.02,118.82 362.13,118.23 362,117.8 C361.87,117.37 361.27,117.02 361,116.6 C360.73,116.18 360.4,115.77 360.4,115.3 C360.4,114.83 360.68,114.23 361,113.8 C361.32,113.37 361.68,113.02 362.3,112.7 C362.92,112.38 364.1,112.18 364.7,111.9 C365.3,111.62 366,111.27 365.9,111 C365.8,110.73 365.23,110.47 364.1,110.3 C362.97,110.13 359.93,110.05 359.1,110Z" fill="#e58499" stroke="#d56c86" stroke-width="0.6"/>
<path d="M379.8,167.5 C379.42,167.58 378.02,167.7 377.5,168 C376.98,168.3 376.68,168.87 376.7,169.3 C376.72,169.73 377.28,170.07 377.6,170.6 C377.92,171.13 378.38,171.77 378.6,172.5 C378.82,173.23 378.92,174.17 378.9,175 C378.88,175.83 378.72,176.75 378.5,177.5 C378.28,178.25 377.98,178.83 377.6,179.5 C377.22,180.17 376.77,180.87 376.2,181.5 C375.63,182.13 374.75,182.78 374.2,183.3 C373.65,183.82 373.05,184.22 372.9,184.6 C372.75,184.98 372.15,185.35 373.3,185.6 C374.45,185.85 377.63,186.1 379.8,186.1 C381.97,186.1 385.15,185.85 386.3,185.6 C387.45,185.35 386.85,184.98 386.7,184.6 C386.55,184.22 385.95,183.82 385.4,183.3 C384.85,182.78 383.97,182.13 383.4,181.5 C382.83,180.87 382.38,180.17 382,179.5 C381.62,178.83 381.32,178.25 381.1,177.5 C380.88,176.75 380.72,175.83 380.7,175 C380.68,174.17 380.78,173.23 381,172.5 C381.22,171.77 381.68,171.13 382,170.6 C382.32,170.07 382.88,169.73 382.9,169.3 C382.92,168.87 382.62,168.3 382.1,168 C381.58,167.7 380.18,167.58 379.8,167.5Z" fill="#e58499" stroke="#d56c86" stroke-width="0.6"/>
<path d="M482.9,118.4 C482.6,118.48 481.62,118.68 481.1,118.9 C480.58,119.12 479.9,119.43 479.8,119.7 C479.7,119.97 480.2,120.2 480.5,120.5 C480.8,120.8 481.38,121.15 481.6,121.5 C481.82,121.85 481.9,122.2 481.8,122.6 C481.7,123 481.38,123.45 481,123.9 C480.62,124.35 480.08,124.85 479.5,125.3 C478.92,125.75 478.02,126.22 477.5,126.6 C476.98,126.98 476.2,127.28 476.4,127.6 C476.6,127.92 477.62,128.25 478.7,128.5 C479.78,128.75 481.5,129.1 482.9,129.1 C484.3,129.1 486.02,128.75 487.1,128.5 C488.18,128.25 489.2,127.92 489.4,127.6 C489.6,127.28 488.82,126.98 488.3,126.6 C487.78,126.22 486.88,125.75 486.3,125.3 C485.72,124.85 485.18,124.35 484.8,123.9 C484.42,123.45 484.1,123 484,122.6 C483.9,122.2 483.98,121.85 484.2,121.5 C484.42,121.15 485,120.8 485.3,120.5 C485.6,120.2 486.1,119.97 486,119.7 C485.9,119.43 485.22,119.12 484.7,118.9 C484.18,118.68 483.2,118.48 482.9,118.4Z" fill="#e58499" stroke="#d56c86" stroke-width="0.6"/>
<path d="M503.3,126.3 C502.38,126.38 498.9,126.6 497.8,126.8 C496.7,127 496.83,126.97 496.7,127.5 C496.57,128.03 496.83,129.08 497,130 C497.17,130.92 497.38,132.08 497.7,133 C498.02,133.92 498.5,134.67 498.9,135.5 C499.3,136.33 499.7,136.92 500.1,138 C500.5,139.08 500.98,140.67 501.3,142 C501.62,143.33 501.83,144.67 502,146 C502.17,147.33 502.33,148.75 502.3,150 C502.27,151.25 502,152.33 501.8,153.5 C501.6,154.67 501.18,156 501.1,157 C501.02,158 500.93,158.83 501.3,159.5 C501.67,160.17 502.63,161 503.3,161 C503.97,161 504.93,160.17 505.3,159.5 C505.67,158.83 505.58,158 505.5,157 C505.42,156 505,154.67 504.8,153.5 C504.6,152.33 504.33,151.25 504.3,150 C504.27,148.75 504.43,147.33 504.6,146 C504.77,144.67 504.98,143.33 505.3,142 C505.62,140.67 506.1,139.08 506.5,138 C506.9,136.92 507.3,136.33 507.7,135.5 C508.1,134.67 508.58,133.92 508.9,133 C509.22,132.08 509.43,130.92 509.6,130 C509.77,129.08 510.03,128.03 509.9,127.5 C509.77,126.97 509.9,127 508.8,126.8 C507.7,126.6 504.22,126.38 503.3,126.3Z" fill="#e58499" stroke="#d56c86" stroke-width="0.6"/>
<line x1="329.1" y1="152.3" x2="512.9" y2="152.3" stroke="#4e4e4e" stroke-width="1.1" stroke-dasharray="2.75 2.45"/>
<line x1="329.1" y1="184.9" x2="512.9" y2="184.9" stroke="#4e4e4e" stroke-width="1.1" stroke-dasharray="2.75 2.45"/>
<circle cx="355.3" cy="111.2" r="1.2" fill="#d10a2c"/>
<circle cx="362.6" cy="111.2" r="1.2" fill="#d10a2c"/>
<circle cx="359" cy="119.3" r="1.2" fill="#d10a2c"/>
<circle cx="379.8" cy="168.4" r="1.2" fill="#d10a2c"/>
<circle cx="376.2" cy="185" r="1.2" fill="#d10a2c"/>
<circle cx="383.5" cy="185" r="1.2" fill="#d10a2c"/>
<circle cx="482.9" cy="119.1" r="1.2" fill="#d10a2c"/>
<circle cx="479.2" cy="127.6" r="1.2" fill="#d10a2c"/>
<circle cx="486.3" cy="127.6" r="1.2" fill="#d10a2c"/>
<circle cx="500" cy="127.7" r="1.2" fill="#d10a2c"/>
<circle cx="507" cy="127.7" r="1.2" fill="#d10a2c"/>
<circle cx="503.5" cy="160" r="1.2" fill="#d10a2c"/>
<circle cx="333.8" cy="184.9" r="1.2" fill="#1f4f8f"/>
<circle cx="338.6" cy="184.9" r="1.2" fill="#1f4f8f"/>
<circle cx="343.1" cy="184.9" r="1.2" fill="#1f4f8f"/>
<circle cx="395.8" cy="184.8" r="1.2" fill="#d10a2c"/>
<circle cx="400.4" cy="184.8" r="1.2" fill="#d10a2c"/>
<circle cx="405" cy="184.8" r="1.2" fill="#d10a2c"/>
<circle cx="416.4" cy="184.8" r="1.2" fill="#d10a2c"/>
<circle cx="421" cy="184.8" r="1.2" fill="#d10a2c"/>
<circle cx="425.6" cy="184.8" r="1.2" fill="#d10a2c"/>
<circle cx="437" cy="184.8" r="1.2" fill="#d10a2c"/>
<circle cx="441.6" cy="184.8" r="1.2" fill="#d10a2c"/>
<circle cx="446.2" cy="184.8" r="1.2" fill="#d10a2c"/>
<circle cx="457.6" cy="184.8" r="1.2" fill="#d10a2c"/>
<circle cx="462.2" cy="184.8" r="1.2" fill="#d10a2c"/>
<circle cx="466.8" cy="184.8" r="1.2" fill="#d10a2c"/>
<rect x="0.5" y="0.5" width="519" height="242" fill="none" stroke="#000" stroke-width="1"/>
</svg>
</body></html>
